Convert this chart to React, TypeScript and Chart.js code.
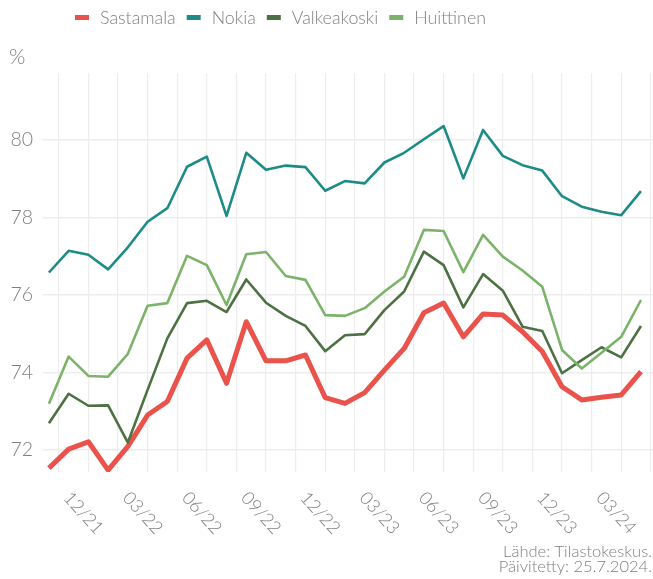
import React, { useEffect, useRef } from "react";
import { Chart, registerables } from "chart.js";
Chart.register(...registerables);

const months = [
  "10/21", "11/21", "12/21", "01/22", "02/22", "03/22", "04/22", "05/22", "06/22", "07/22", "08/22", "09/22",
  "10/22", "11/22", "12/22", "01/23", "02/23", "03/23", "04/23", "05/23", "06/23", "07/23", "08/23", "09/23",
  "10/23", "11/23", "12/23", "01/24", "02/24", "03/24", "04/24",
];

const tickLabels = ["12/21", "03/22", "06/22", "09/22", "12/22", "03/23", "06/23", "09/23", "12/23", "03/24"];
const yTicks = [72, 74, 76, 78, 80];

const sastamala = [71.53, 72.02, 72.21, 71.48, 72.09, 72.9, 73.25, 74.37, 74.84, 73.72, 75.31, 74.3, 74.3, 74.45, 73.35, 73.2, 73.48, 74.06, 74.62, 75.54, 75.79, 74.92, 75.51, 75.48, 75.05, 74.54, 73.63, 73.29, 73.36, 73.42, 74.02];
const nokia = [76.58, 77.14, 77.04, 76.66, 77.23, 77.89, 78.24, 79.31, 79.57, 78.04, 79.67, 79.23, 79.34, 79.3, 78.69, 78.94, 78.88, 79.42, 79.67, 80.02, 80.36, 79.01, 80.26, 79.59, 79.35, 79.21, 78.55, 78.28, 78.15, 78.06, 78.68];
const valkeakoski = [72.69, 73.45, 73.14, 73.15, 72.19, 73.55, 74.88, 75.79, 75.85, 75.56, 76.4, 75.8, 75.46, 75.2, 74.55, 74.96, 74.99, 75.61, 76.09, 77.12, 76.77, 75.68, 76.54, 76.11, 75.18, 75.07, 73.98, 74.32, 74.65, 74.39, 75.2];
const huittinen = [73.19, 74.41, 73.91, 73.89, 74.48, 75.72, 75.79, 77.01, 76.77, 75.74, 77.05, 77.11, 76.49, 76.39, 75.48, 75.46, 75.66, 76.09, 76.47, 77.68, 77.65, 76.59, 77.55, 76.99, 76.63, 76.21, 74.58, 74.1, 74.51, 74.92, 75.87];

const seriesNames = ["Sastamala", "Nokia", "Valkeakoski", "Huittinen"];
const seriesColors = ["#E9534B", "#1D8B86", "#4D7142", "#7CB36A"];
const seriesWidths = [5, 2.6, 2.6, 2.6];
const seriesValues = [sastamala, nokia, valkeakoski, huittinen];
const seriesOrder = [4, 3, 2, 1];

const sourceLines = ["Lähde: Tilastokeskus.", "Päivitetty: 25.7.2024."];

const TEXT = "#808080";
const GRID = "#ededed";
const FONT = "Lato, 'Open Sans', sans-serif";

const overlay = {
  id: "overlay",
  afterDraw(chart: any) {
    const ctx = chart.ctx as CanvasRenderingContext2D;
    ctx.save();
    ctx.fillStyle = TEXT;

    // y unit
    ctx.font = `300 21px ${FONT}`;
    ctx.textAlign = "left";
    ctx.textBaseline = "middle";
    ctx.fillText("%", 9, 57);

    // legend
    ctx.font = `300 17.8px ${FONT}`;
    let x = 75;
    const ly = 17.5;
    seriesNames.forEach((n, i) => {
      ctx.fillStyle = seriesColors[i];
      ctx.fillRect(x, ly - 2.5, 14, 5);
      x += 25;
      ctx.fillStyle = TEXT;
      ctx.textBaseline = "middle";
      ctx.fillText(n, x, ly + 1);
      x += ctx.measureText(n).width + 11;
    });

    // x tick labels (rotated clockwise)
    const xs = chart.scales.x;
    ctx.font = `300 18px ${FONT}`;
    ctx.textAlign = "center";
    ctx.textBaseline = "middle";
    tickLabels.forEach((l) => {
      const idx = months.indexOf(l);
      const px = xs.getPixelForValue(idx);
      ctx.save();
      ctx.translate(px - 5, 513);
      ctx.rotate((48 * Math.PI) / 180);
      ctx.fillText(l, 0, 0);
      ctx.restore();
    });

    // source
    ctx.font = `300 16.5px ${FONT}`;
    ctx.textAlign = "right";
    ctx.textBaseline = "middle";
    sourceLines.forEach((s, i) => ctx.fillText(s, 652, 552 + i * 15));
    ctx.restore();
  },
};

export default function App() {
  const ref = useRef<HTMLCanvasElement>(null);
  useEffect(() => {
    const canvas = ref.current!;
    const majorIdx = tickLabels.map((l) => months.indexOf(l));
    const gridTicks: number[] = [];
    for (let v = majorIdx[0] - 1.5; v <= months.length - 0.5; v += 1.5) gridTicks.push(v);

    const chart = new Chart(canvas, {
      type: "line",
      data: {
        datasets: seriesNames.map((n, i) => ({
          label: n,
          data: seriesValues[i].map((v, j) => ({ x: j, y: v })),
          borderColor: seriesColors[i],
          backgroundColor: seriesColors[i],
          borderWidth: seriesWidths[i],
          borderJoinStyle: "round" as const,
          pointRadius: 0,
          tension: 0,
          order: seriesOrder[i],
        })),
      },
      options: {
        animation: false,
        responsive: false,
        devicePixelRatio: 1,
        layout: { padding: { top: 73, bottom: 107, left: 0, right: 0 } },
        plugins: { legend: { display: false }, tooltip: { enabled: false } },
        scales: {
          x: {
            type: "linear",
            min: -0.3,
            max: 30.61,
            afterBuildTicks: (s: any) => {
              s.ticks = gridTicks.map((v) => ({ value: v }));
            },
            afterFit: (s: any) => {
              s.height = 0;
            },
            ticks: { display: false },
            grid: { color: GRID, lineWidth: 1.2, drawTicks: false },
            border: { display: false },
          },
          y: {
            type: "linear",
            min: 71.43,
            max: 81.73,
            afterBuildTicks: (s: any) => {
              s.ticks = yTicks.map((v) => ({ value: v }));
            },
            afterFit: (s: any) => {
              s.width = 43;
            },
            ticks: { color: TEXT, font: { family: FONT, size: 19.5, weight: "300" }, padding: 10 },
            grid: { color: GRID, lineWidth: 1.5, drawTicks: false },
            border: { display: false },
          },
        },
      },
      plugins: [overlay],
    });
    return () => chart.destroy();
  }, []);

  return (
    <div style={{ position: "fixed", left: 0, top: 0, width: 653, height: 579, background: "#fff" }}>
      <canvas ref={ref} width={653} height={579} style={{ display: "block" }} />
    </div>
  );
}
